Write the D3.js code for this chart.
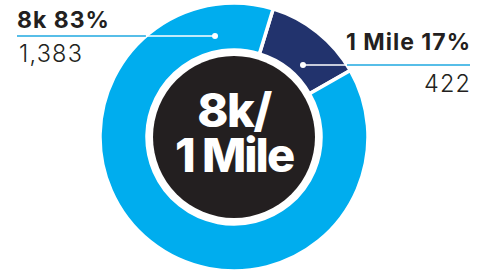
<!DOCTYPE html>
<html><head><meta charset="utf-8">
<script src="https://cdn.jsdelivr.net/npm/d3@7"></script>
<style>html,body{margin:0;padding:0;background:#fff;}svg{display:block;}</style>
</head><body>
<script>
// Data
const categories = ["1 Mile", "8k"];
const percents = [17, 83];
const counts = [422, 1383];
const drawnShare = [12, 88];   // angular share as drawn in the reference
const centerLines = ["8k/", "1 Mile"];

const W = 486, H = 274;
const cx = 234, cy = 137, rOuter = 134, rInner = 87, rCore = 81;
const colors = {"1 Mile": "#22336d", "8k": "#00adee"};
const leader = "#1fa9e1";

const svg = d3.select("body").append("svg").attr("width", W).attr("height", H);
const g = svg.append("g").attr("transform", `translate(${cx},${cy})`);

const data = categories.map((c, i) => ({cat: c, pct: percents[i], n: counts[i], share: drawnShare[i]}));
const start = 17 * Math.PI / 180;
const pie = d3.pie().sort(null).value(d => d.share).startAngle(start).endAngle(start + 2 * Math.PI);
const arc = d3.arc().innerRadius(rInner).outerRadius(rOuter);
const arcs = pie(data);

g.selectAll("path.slice").data(arcs).join("path")
  .attr("class", "slice")
  .attr("d", arc)
  .attr("fill", d => colors[d.data.cat])
  .attr("stroke", "#fff").attr("stroke-width", 3.5).attr("stroke-linejoin", "miter");

g.append("circle").attr("r", rCore).attr("fill", "#231f20");

// center text
const cFont = "Inter, 'Open Sans', sans-serif";
g.append("text").attr("text-anchor", "middle").attr("fill", "#fff")
  .attr("font-family", cFont).attr("font-weight", 800)
  .attr("font-size", 47).attr("letter-spacing", -1.5)
  .attr("x", 0).attr("y", -10).text(centerLines[0]);
g.append("text").attr("text-anchor", "middle").attr("fill", "#fff")
  .attr("font-family", cFont).attr("font-weight", 800)
  .attr("font-size", 47).attr("letter-spacing", -2)
  .attr("x", 0).attr("y", 35).text(centerLines[1]);

// Leader lines & labels
const labelFont = "Inter, 'Open Sans', sans-serif";
function ringEdgeX(y, side) {
  const dy = y - cy;
  return cx + side * Math.sqrt(rOuter * rOuter - dy * dy);
}
// 8k (left)
{
  const d = data[1];
  const y = 36, x0 = 17, xDot = 215;
  const xe = ringEdgeX(y, -1);
  svg.append("line").attr("x1", x0).attr("x2", xe).attr("y1", y).attr("y2", y).attr("stroke", leader).attr("stroke-width", 1.3);
  svg.append("line").attr("x1", xe).attr("x2", xDot).attr("y1", y).attr("y2", y).attr("stroke", "#fff").attr("stroke-width", 1.3);
  svg.append("circle").attr("cx", xDot).attr("cy", y).attr("r", 3).attr("fill", "#fff");
  svg.append("text").attr("x", x0).attr("y", 28).attr("font-family", labelFont).attr("font-weight", 700)
    .attr("font-size", 23).attr("letter-spacing", 1).attr("fill", "#231f20").text(`${d.cat} ${d.pct}%`);
  svg.append("text").attr("x", 19).attr("y", 62).attr("font-family", labelFont).attr("font-weight", 300)
    .attr("font-size", 23.5).attr("letter-spacing", 1.2).attr("fill", "#231f20").text(d3.format(",")(d.n));
}
// 1 Mile (right)
{
  const d = data[0];
  const y = 65, x1 = 470, xDot = 303;
  const xe = ringEdgeX(y, 1);
  svg.append("line").attr("x1", xDot).attr("x2", xe).attr("y1", y).attr("y2", y).attr("stroke", "#fff").attr("stroke-width", 1.3);
  svg.append("line").attr("x1", xe).attr("x2", x1).attr("y1", y).attr("y2", y).attr("stroke", leader).attr("stroke-width", 1.3);
  svg.append("circle").attr("cx", xDot).attr("cy", y).attr("r", 3).attr("fill", "#fff");
  svg.append("text").attr("x", x1 + 1).attr("y", 50).attr("text-anchor", "end").attr("font-family", labelFont).attr("font-weight", 700)
    .attr("font-size", 23).attr("letter-spacing", 1).attr("fill", "#231f20").text(`${d.cat} ${d.pct}%`);
  svg.append("text").attr("x", x1 + 1.2).attr("y", 92).attr("text-anchor", "end").attr("font-family", labelFont).attr("font-weight", 300)
    .attr("font-size", 23.5).attr("letter-spacing", 1.2).attr("fill", "#231f20").text(d3.format(",")(d.n));
}
</script>
</body></html>
